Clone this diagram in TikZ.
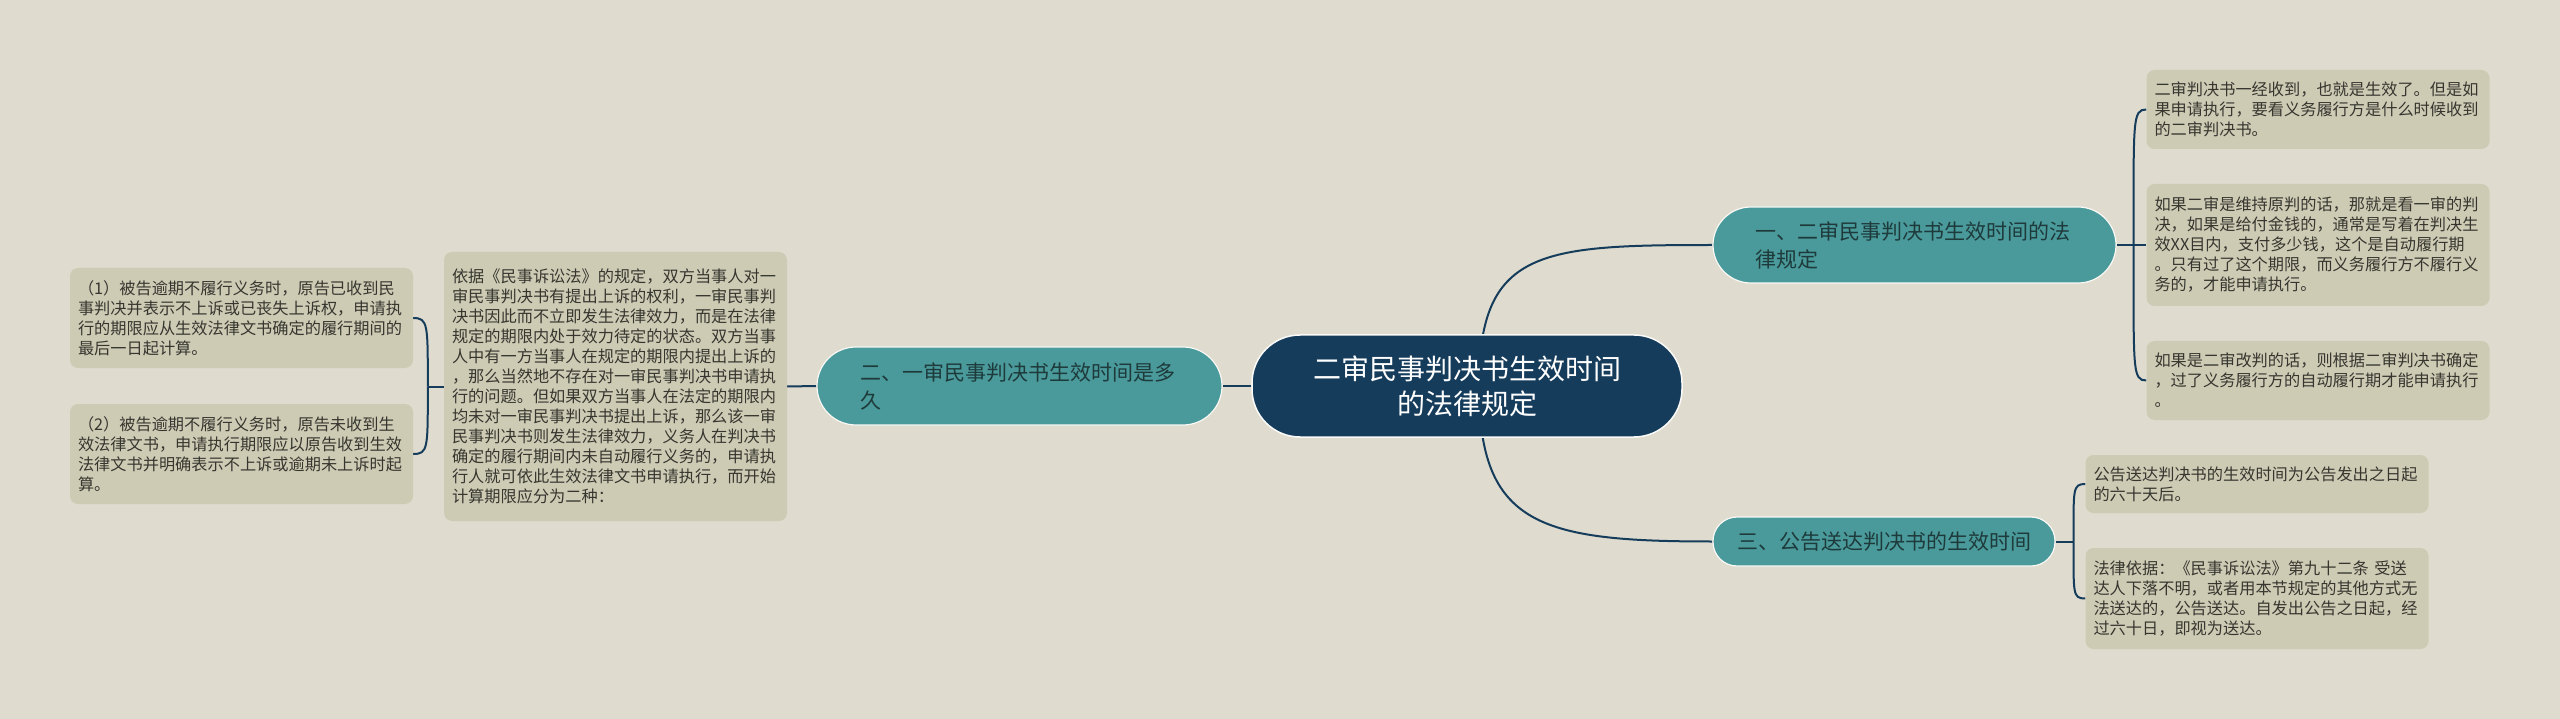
\documentclass[tikz,border=0pt]{standalone}
\usepackage{fontspec}
\setmainfont{Noto Sans CJK SC}
\usepackage{tikz}
\usetikzlibrary{calc,positioning,backgrounds}
\definecolor{paper}{HTML}{DFDCCF}
\definecolor{navy}{HTML}{163C5C}
\definecolor{teal}{HTML}{4A9A9B}
\definecolor{leafbg}{HTML}{CECBB5}
\definecolor{leafink}{HTML}{36362F}
\definecolor{tealink}{HTML}{1E3A3B}
\pgfdeclarelayer{back}
\pgfdeclarelayer{links}
\pgfsetlayers{back,links,main}
\tikzset{
	link/.style={draw=navy, line width=2pt},
	root/.style={fill=navy, draw=white!85!paper, line width=1.5pt, text=white,
		rounded corners=48pt, minimum width=430pt, minimum height=102pt,
		align=center, font=\fontsize{28pt}{35pt}\selectfont},
	topic/.style={fill=teal, draw=white!80!paper, line width=1.2pt, text=tealink,
		inner sep=0pt, align=left, font=\fontsize{21pt}{28pt}\selectfont},
	leaf/.style={fill=leafbg, rounded corners=8pt, text=leafink, inner xsep=8pt,
		inner ysep=0pt, text width=327pt, align=left,
		font=\fontsize{16.2pt}{20pt}\selectfont},
}

\begin{document}
\begin{tikzpicture}[x=1pt, y=-1pt]
        \useasboundingbox (0,0) rectangle (2560,719);
        \begin{pgfonlayer}{back}
            \fill[paper] (0,0) rectangle (2560,719);
        \end{pgfonlayer}

        \node[root] (ctr) at (1467,386) {二审民事判决书生效时间\\的法律规定};

        \node[topic, rounded corners=38pt, minimum width=403pt, minimum height=76pt, text width=318pt]
            (b1) at (1914.5,245) {一、二审民事判决书生效时间的法\\律规定};
        \node[topic, rounded corners=39pt, minimum width=405pt, minimum height=78pt, text width=318pt]
            (b2) at (1019.5,386) {二、一审民事判决书生效时间是多\\久};
        \node[topic, rounded corners=24pt, minimum width=342pt, minimum height=49pt, align=center]
            (b3) at (1884,541.5) {三、公告送达判决书的生效时间};

        % right side
        \node[leaf, minimum height=79pt] (r1) at (2318,109.5)
            {二审判决书一经收到，也就是生效了。但是如\\果申请执行，要看义务履行方是什么时候收到\\的二审判决书。};
        \node[leaf, minimum height=122pt] (r2) at (2318,245)
            {如果二审是维持原判的话，那就是看一审的判\\决，如果是给付金钱的，通常是写着在判决生\\效XX目内，支付多少钱，这个是自动履行期\\。只有过了这个期限，而义务履行方不履行义\\务的，才能申请执行。};
        \node[leaf, minimum height=79pt] (r3) at (2318,380.5)
            {如果是二审改判的话，则根据二审判决书确定\\，过了义务履行方的自动履行期才能申请执行\\。};
        \node[leaf, minimum height=58pt] (r4) at (2257,484)
            {公告送达判决书的生效时间为公告发出之日起\\的六十天后。};
        \node[leaf, minimum height=101pt] (r5) at (2257,598.5)
            {法律依据：《民事诉讼法》第九十二条~受送\\达人下落不明，或者用本节规定的其他方式无\\法送达的，公告送达。自发出公告之日起，经\\过六十日，即视为送达。};

        % left side
        \node[leaf, minimum height=269pt] (l0) at (615.5,386.5)
            {依据《民事诉讼法》的规定，双方当事人对一\\审民事判决书有提出上诉的权利，一审民事判\\决书因此而不立即发生法律效力，而是在法律\\规定的期限内处于效力待定的状态。双方当事\\人中有一方当事人在规定的期限内提出上诉的\\，那么当然地不存在对一审民事判决书申请执\\行的问题。但如果双方当事人在法定的期限内\\均未对一审民事判决书提出上诉，那么该一审\\民事判决书则发生法律效力，义务人在判决书\\确定的履行期间内未自动履行义务的，申请执\\行人就可依此生效法律文书申请执行，而开始\\计算期限应分为二种：};
        \node[leaf, minimum height=100pt] (l1) at (241.5,318)
            {（1）被告逾期不履行义务时，原告已收到民\\事判决并表示不上诉或已丧失上诉权，申请执\\行的期限应从生效法律文书确定的履行期间的\\最后一日起计算。};
        \node[leaf, minimum height=100pt] (l2) at (241.5,454)
            {（2）被告逾期不履行义务时，原告未收到生\\效法律文书，申请执行期限应以原告收到生效\\法律文书并明确表示不上诉或逾期未上诉时起\\算。};

        \begin{pgfonlayer}{links}
            \draw[link] ([xshift=12pt]ctr.center) .. controls +(0,-136) and +(-173,0) .. (b1.west);
            \draw[link] ([xshift=12pt]ctr.center) .. controls +(0,139) and +(-173,0) .. (b3.west);
            \draw[link] (ctr.west) -- (b2.east);
            \draw[link] (b2.west) -- (l0.east);

            \draw[link] (b1.east) -- ++(17,0) coordinate (k1);
            \draw[link] (k1) .. controls +(0,-125) and +(-14,0) .. (r1.west);
            \draw[link] (k1) -- (r2.west);
            \draw[link] (k1) .. controls +(0,125) and +(-14,0) .. (r3.west);

            \draw[link] (b3.east) -- ++(18,0) coordinate (k3);
            \draw[link] (k3) .. controls +(0,-52) and +(-13,0) .. (r4.west);
            \draw[link] (k3) .. controls +(0,52) and +(-13,0) .. (r5.west);

            \draw[link] (l0.west) -- ++(-16,0) coordinate (kl);
            \draw[link] (kl) .. controls +(0,-62) and +(15,0) .. (l1.east);
            \draw[link] (kl) .. controls +(0,62) and +(15,0) .. (l2.east);
        \end{pgfonlayer}
    \end{tikzpicture}
\end{document}
